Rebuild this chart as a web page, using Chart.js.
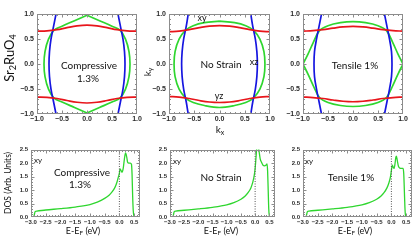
<!DOCTYPE html>
<html>
<head>
<meta charset="utf-8">
<script src="https://cdn.jsdelivr.net/npm/chart.js@4.4.1/dist/chart.umd.min.js"></script>
<style>
  html, body { margin: 0; padding: 0; background: #fff; }
  #wrap { position: relative; width: 415px; height: 241px; overflow: hidden; background: #fff; }
  canvas { position: absolute; }
  .lbl { position: absolute; transform: translate(-50%, -50%); white-space: nowrap; font-family: Lato, 'Open Sans', sans-serif; color: #111; line-height: 1; }
  .rot { transform: translate(-50%, -50%) rotate(-90deg); }
  .lbl sub { font-size: 70%; vertical-align: -0.25em; line-height: 0; }
</style>
</head>
<body>
<div id="wrap">
  <canvas id="c1"></canvas>
  <canvas id="c2"></canvas>
  <canvas id="c3"></canvas>
  <canvas id="c4"></canvas>
  <canvas id="c5"></canvas>
  <canvas id="c6"></canvas>

  <div class="lbl rot" style="left:9px; top:58px; font-size:13px;">Sr<sub>2</sub>RuO<sub>4</sub></div>
  <div class="lbl" style="left:89px; top:65px; font-size:10px;">Compressive</div>
  <div class="lbl" style="left:88px; top:78px; font-size:10px;">1.3%</div>

  <div class="lbl rot" style="left:147px; top:72px; font-size:10px;">k<sub>y</sub></div>
  <div class="lbl" style="left:220px; top:129px; font-size:10px;">k<sub>x</sub></div>
  <div class="lbl" style="left:221px; top:64px; font-size:10px;">No Strain</div>
  <div class="lbl" style="left:202px; top:17px; font-size:9px;">xy</div>
  <div class="lbl" style="left:254px; top:61px; font-size:9px;">xz</div>
  <div class="lbl" style="left:219px; top:95px; font-size:9px;">yz</div>

  <div class="lbl" style="left:355px; top:65px; font-size:10px;">Tensile 1%</div>

  <div class="lbl rot" style="left:8px; top:183px; font-size:8.5px;">DOS (Arb. Units)</div>
  <div class="lbl" style="left:38px; top:160px; font-size:8px;">xy</div>
  <div class="lbl" style="left:82px; top:172px; font-size:10px;">Compressive</div>
  <div class="lbl" style="left:80px; top:184px; font-size:10px;">1.3%</div>
  <div class="lbl" style="left:83px; top:230px; font-size:9px;">E-E<sub>F</sub> (eV)</div>

  <div class="lbl" style="left:177px; top:161px; font-size:8px;">xy</div>
  <div class="lbl" style="left:221px; top:177px; font-size:10px;">No Strain</div>
  <div class="lbl" style="left:221px; top:230px; font-size:9px;">E-E<sub>F</sub> (eV)</div>

  <div class="lbl" style="left:309px; top:161px; font-size:8px;">xy</div>
  <div class="lbl" style="left:351px; top:177px; font-size:10px;">Tensile 1%</div>
  <div class="lbl" style="left:355px; top:230px; font-size:9px;">E-E<sub>F</sub> (eV)</div>
</div>
<script>
// ---------------- Fermi surface axes ----------------
const fsTickValues = [-1.0, -0.5, 0.0, 0.5, 1.0];
const fsTickLabels = ['\u22121.0', '\u22120.5', '0.0', '0.5', '1.0'];

// ---------------- red (yz / xz-like horizontal sheets) ----------------
const redKx = [-1.0, -0.8, -0.6, -0.4, -0.2, 0.0, 0.2, 0.4, 0.6, 0.8, 1.0];
const redUpperCompressive = [0.66, 0.665, 0.69, 0.73, 0.765, 0.78, 0.765, 0.73, 0.69, 0.665, 0.66];
const redLowerCompressive = [-0.66, -0.665, -0.69, -0.73, -0.765, -0.78, -0.765, -0.73, -0.69, -0.665, -0.66];
const redUpperNoStrain = [0.65, 0.66, 0.69, 0.73, 0.76, 0.77, 0.76, 0.73, 0.69, 0.66, 0.65];
const redLowerNoStrain = [-0.65, -0.66, -0.69, -0.73, -0.76, -0.77, -0.76, -0.73, -0.69, -0.66, -0.65];
const redUpperTensile = [0.66, 0.67, 0.69, 0.72, 0.745, 0.755, 0.745, 0.72, 0.69, 0.67, 0.66];
const redLowerTensile = [-0.66, -0.67, -0.69, -0.72, -0.745, -0.755, -0.745, -0.72, -0.69, -0.67, -0.66];

// ---------------- blue (vertical sheets) ----------------
const blueKy = [-1.0, -0.75, -0.5, -0.25, 0.0, 0.25, 0.5, 0.75, 1.0];
const blueRightCompressive = [0.62, 0.67, 0.72, 0.75, 0.76, 0.75, 0.72, 0.67, 0.62];
const blueLeftCompressive = [-0.62, -0.67, -0.72, -0.75, -0.76, -0.75, -0.72, -0.67, -0.62];
const blueRightNoStrain = [0.62, 0.66, 0.71, 0.74, 0.75, 0.74, 0.71, 0.66, 0.62];
const blueLeftNoStrain = [-0.62, -0.66, -0.71, -0.74, -0.75, -0.74, -0.71, -0.66, -0.62];
const blueRightTensile = [0.63, 0.68, 0.73, 0.77, 0.78, 0.77, 0.73, 0.68, 0.63];
const blueLeftTensile = [-0.63, -0.68, -0.73, -0.77, -0.78, -0.77, -0.73, -0.68, -0.63];

// ---------------- green (xy sheet) ----------------
const greenArcKyCompressive = [0.98, 0.87, 0.76, 0.68, 0.5, 0.25, 0.0, -0.25, -0.5, -0.68, -0.76, -0.87, -0.98];
const greenRightKxCompressive = [0.0, 0.25, 0.5, 0.66, 0.77, 0.84, 0.86, 0.84, 0.77, 0.66, 0.5, 0.25, 0.0];
const greenLeftKxCompressive = [0.0, -0.25, -0.5, -0.66, -0.77, -0.84, -0.86, -0.84, -0.77, -0.66, -0.5, -0.25, 0.0];

const greenKxNoStrain = [0, 0.3, 0.52, 0.67, 0.8, 0.88, 0.9, 0.88, 0.8, 0.67, 0.52, 0.3, 0, -0.3, -0.52, -0.67, -0.8, -0.88, -0.9, -0.88, -0.8, -0.67, -0.52, -0.3, 0];
const greenKyNoStrain = [0.86, 0.83, 0.77, 0.68, 0.5, 0.25, 0, -0.25, -0.5, -0.68, -0.77, -0.83, -0.87, -0.83, -0.77, -0.68, -0.5, -0.25, 0, 0.25, 0.5, 0.68, 0.77, 0.83, 0.86];

const greenArcKxTensile = [-1.0, -0.9, -0.8, -0.67, -0.5, -0.25, 0.0, 0.25, 0.5, 0.67, 0.8, 0.9, 1.0];
const greenTopKyTensile = [0.0, 0.2, 0.42, 0.67, 0.77, 0.83, 0.85, 0.83, 0.77, 0.67, 0.42, 0.2, 0.0];
const greenBottomKyTensile = [0.0, -0.2, -0.42, -0.67, -0.77, -0.83, -0.85, -0.83, -0.77, -0.67, -0.42, -0.2, 0.0];

// ---------------- DOS axes ----------------
const dosETicks = [-3.0, -2.5, -2.0, -1.5, -1.0, -0.5, 0.0, 0.5];
const dosETickLabels = ['\u22123.0', '\u22122.5', '\u22122.0', '\u22121.5', '\u22121.0', '\u22120.5', '0.0', '0.5'];
const dosYTicks = [0.0, 0.5, 1.0, 1.5, 2.0, 2.5];
const dosYTickLabels = ['0.0', '0.5', '1.0', '1.5', '2.0', '2.5'];
const fermiE = [0.0, 0.0];
const fermiDos = [0.0, 2.5];

// ---------------- DOS curves (xy orbital) ----------------
const dosECompressive = [-3.0, -2.91, -2.88, -2.86, -2.8, -2.5, -2.0, -1.5, -1.0, -0.75, -0.5, -0.35, -0.25, -0.15, -0.08, -0.03, 0.0, 0.02, 0.05, 0.09, 0.13, 0.17, 0.21, 0.25, 0.28, 0.32, 0.37, 0.41, 0.43, 0.45, 0.47, 0.49, 0.52, 0.7];
const dosCompressive = [0, 0, 0.12, 0.2, 0.22, 0.26, 0.31, 0.37, 0.46, 0.55, 0.69, 0.81, 0.93, 1.1, 1.3, 1.5, 1.62, 1.78, 1.74, 1.66, 1.8, 2.15, 2.38, 2.22, 2.03, 2.0, 2.0, 1.96, 1.6, 0.8, 0.25, 0.05, 0, 0];

const dosENoStrain = [-3.0, -2.9, -2.87, -2.85, -2.8, -2.5, -2.0, -1.5, -1.0, -0.75, -0.5, -0.35, -0.25, -0.15, -0.08, -0.03, 0.0, 0.03, 0.06, 0.09, 0.13, 0.18, 0.23, 0.28, 0.33, 0.38, 0.42, 0.44, 0.46, 0.48, 0.5, 0.53, 0.7];
const dosNoStrain = [0, 0, 0.12, 0.2, 0.22, 0.25, 0.3, 0.36, 0.45, 0.53, 0.66, 0.78, 0.9, 1.08, 1.3, 1.55, 1.8, 2.2, 2.6, 2.75, 2.5, 2.15, 2.02, 1.92, 1.9, 1.92, 1.97, 1.7, 1.0, 0.3, 0.05, 0, 0];

const dosETensile = [-3.0, -2.9, -2.87, -2.85, -2.8, -2.5, -2.0, -1.5, -1.0, -0.75, -0.5, -0.35, -0.25, -0.15, -0.08, -0.03, 0.0, 0.03, 0.06, 0.09, 0.12, 0.15, 0.17, 0.2, 0.24, 0.28, 0.34, 0.4, 0.42, 0.44, 0.46, 0.48, 0.51, 0.7];
const dosTensile = [0, 0, 0.12, 0.2, 0.22, 0.25, 0.3, 0.36, 0.45, 0.53, 0.66, 0.78, 0.9, 1.08, 1.28, 1.5, 1.72, 1.92, 1.85, 1.8, 1.95, 2.2, 2.26, 2.1, 1.88, 1.82, 1.8, 1.8, 1.6, 1.0, 0.35, 0.05, 0, 0];

// ---------------- styling ----------------
const RED = '#e8151b';
const BLUE = '#1616e0';
const GREEN = '#2fd62f';
const TICK_COLOR = '#2a2a2a';
const FRAME_COLOR = '#8c8c8c';

function pts(xs, ys) { return xs.map((x, i) => ({ x: x, y: ys[i] })); }
function line(data, color, width, tension, extra) {
  return Object.assign({ data: data, borderColor: color, borderWidth: width, pointRadius: 0, showLine: true, fill: false, tension: tension }, extra || {});
}

// frame with inward ticks (Mathematica style)
const frameTicks = {
  id: 'frameTicks',
  afterDraw(chart, args, opts) {
    const { ctx, chartArea: a, scales } = chart;
    const xs = scales.x, ys = scales.y;
    const L = Math.round(a.left) + 0.5, R = Math.round(a.right) - 0.5;
    const T = Math.round(a.top) + 0.5, B = Math.round(a.bottom) - 0.5;
    ctx.save();
    ctx.strokeStyle = FRAME_COLOR;
    ctx.lineWidth = 1;
    ctx.beginPath();
    const mark = (vals, len, axis) => {
      vals.forEach(v => {
        if (axis === 'x') {
          const p = Math.round(xs.getPixelForValue(v)) + 0.5;
          if (p < L - 0.1 || p > R + 0.1) return;
          ctx.moveTo(p, B); ctx.lineTo(p, B - len);
          ctx.moveTo(p, T); ctx.lineTo(p, T + len);
        } else {
          const p = Math.round(ys.getPixelForValue(v)) + 0.5;
          if (p < T - 0.1 || p > B + 0.1) return;
          ctx.moveTo(L, p); ctx.lineTo(L + len, p);
          ctx.moveTo(R, p); ctx.lineTo(R - len, p);
        }
      });
    };
    mark(opts.xMajor, 3, 'x');
    mark(opts.xMinor, 1.5, 'x');
    mark(opts.yMajor, 3, 'y');
    mark(opts.yMinor, 1.5, 'y');
    ctx.stroke();
    ctx.strokeRect(L, T, R - L, B - T);
    ctx.restore();
  }
};

function minorSteps(min, max, step) {
  const out = [];
  for (let v = min; v <= max + 1e-9; v += step) out.push(Math.round(v * 1000) / 1000);
  return out;
}

function buildChart(id, plot, xAxis, yAxis, datasets, fontSize, xPad) {
  const yW = 30, xH = 12, padTop = 6, padRight = 8;
  const canvas = document.getElementById(id);
  const L = plot.left - yW, T = plot.top - padTop;
  const W = (plot.right - plot.left) + yW + padRight;
  const H = (plot.bottom - plot.top) + padTop + xH;
  canvas.style.left = L + 'px';
  canvas.style.top = T + 'px';
  canvas.width = W; canvas.height = H;
  canvas.style.width = W + 'px'; canvas.style.height = H + 'px';
  const tickFont = { family: "'Liberation Sans', Arial, sans-serif", size: fontSize, weight: 'bold' };
  return new Chart(canvas, {
    type: 'scatter',
    data: { datasets: datasets },
    options: {
      responsive: false, animation: false, events: [],
      layout: { padding: { top: padTop, right: padRight, left: 0, bottom: 0 } },
      plugins: {
        legend: { display: false }, tooltip: { enabled: false },
        frameTicks: { xMajor: xAxis.values, xMinor: xAxis.minor, yMajor: yAxis.values, yMinor: yAxis.minor }
      },
      scales: {
        x: {
          type: 'linear', min: xAxis.min, max: xAxis.max,
          afterBuildTicks: s => { s.ticks = xAxis.values.map(v => ({ value: v })); },
          afterFit: s => { s.height = xH; },
          ticks: { autoSkip: false, maxRotation: 0, minRotation: 0, padding: xPad, color: TICK_COLOR, font: tickFont,
                   callback: v => xAxis.labels[xAxis.values.indexOf(v)] },
          grid: { display: false, drawTicks: false }, border: { display: false }
        },
        y: {
          type: 'linear', min: yAxis.min, max: yAxis.max,
          afterBuildTicks: s => { s.ticks = yAxis.values.map(v => ({ value: v })); },
          afterFit: s => { s.width = yW; },
          ticks: { autoSkip: false, padding: 3, color: TICK_COLOR, font: tickFont,
                   callback: v => yAxis.labels[yAxis.values.indexOf(v)] },
          grid: { display: false, drawTicks: false }, border: { display: false }
        }
      }
    },
    plugins: [frameTicks]
  });
}

const fsAxis = { min: -1, max: 1, values: fsTickValues, labels: fsTickLabels, minor: minorSteps(-1, 1, 0.1) };
const dosXAxis = { min: -3, max: 0.7, values: dosETicks, labels: dosETickLabels, minor: minorSteps(-3, 0.7, 0.1) };
const dosYAxis = { min: 0, max: 2.5, values: dosYTicks, labels: dosYTickLabels, minor: minorSteps(0, 2.5, 0.1) };

const FSW = 1.7, GT = 0.35, RT = 0.4;

// Compressive FS
buildChart('c1', { left: 37, top: 13, right: 137, bottom: 114 }, fsAxis, fsAxis, [
  line(pts(redKx, redUpperCompressive), RED, FSW, RT),
  line(pts(redKx, redLowerCompressive), RED, FSW, RT),
  line(pts(blueLeftCompressive, blueKy), BLUE, FSW, RT),
  line(pts(blueRightCompressive, blueKy), BLUE, FSW, RT),
  line(pts(greenRightKxCompressive, greenArcKyCompressive), GREEN, FSW, GT),
  line(pts(greenLeftKxCompressive, greenArcKyCompressive), GREEN, FSW, GT)
], 7, 1);

// No strain FS
buildChart('c2', { left: 169, top: 13, right: 270, bottom: 114 }, fsAxis, fsAxis, [
  line(pts(redKx, redUpperNoStrain), RED, FSW, RT),
  line(pts(redKx, redLowerNoStrain), RED, FSW, RT),
  line(pts(blueLeftNoStrain, blueKy), BLUE, FSW, RT),
  line(pts(blueRightNoStrain, blueKy), BLUE, FSW, RT),
  line(pts(greenKxNoStrain, greenKyNoStrain), GREEN, FSW, GT)
], 7, 1);

// Tensile FS
buildChart('c3', { left: 303, top: 13, right: 403, bottom: 114 }, fsAxis, fsAxis, [
  line(pts(redKx, redUpperTensile), RED, FSW, RT),
  line(pts(redKx, redLowerTensile), RED, FSW, RT),
  line(pts(blueLeftTensile, blueKy), BLUE, FSW, RT),
  line(pts(blueRightTensile, blueKy), BLUE, FSW, RT),
  line(pts(greenArcKxTensile, greenTopKyTensile), GREEN, FSW, GT),
  line(pts(greenArcKxTensile, greenBottomKyTensile), GREEN, FSW, GT)
], 7, 1);

function fermiLine() {
  return line(pts(fermiE, fermiDos), '#555', 1, 0, { borderDash: [1, 1.5] });
}
const DW = 1.3;
buildChart('c4', { left: 31, top: 149, right: 140, bottom: 217 }, dosXAxis, dosYAxis, [
  fermiLine(),
  line(pts(dosECompressive, dosCompressive), GREEN, DW, 0, { cubicInterpolationMode: 'monotone' })
], 6, 2);
buildChart('c5', { left: 170, top: 149, right: 275, bottom: 217 }, dosXAxis, dosYAxis, [
  fermiLine(),
  line(pts(dosENoStrain, dosNoStrain), GREEN, DW, 0, { cubicInterpolationMode: 'monotone' })
], 6, 2);
buildChart('c6', { left: 303, top: 149, right: 412, bottom: 217 }, dosXAxis, dosYAxis, [
  fermiLine(),
  line(pts(dosETensile, dosTensile), GREEN, DW, 0, { cubicInterpolationMode: 'monotone' })
], 6, 2);
</script>
</body>
</html>
